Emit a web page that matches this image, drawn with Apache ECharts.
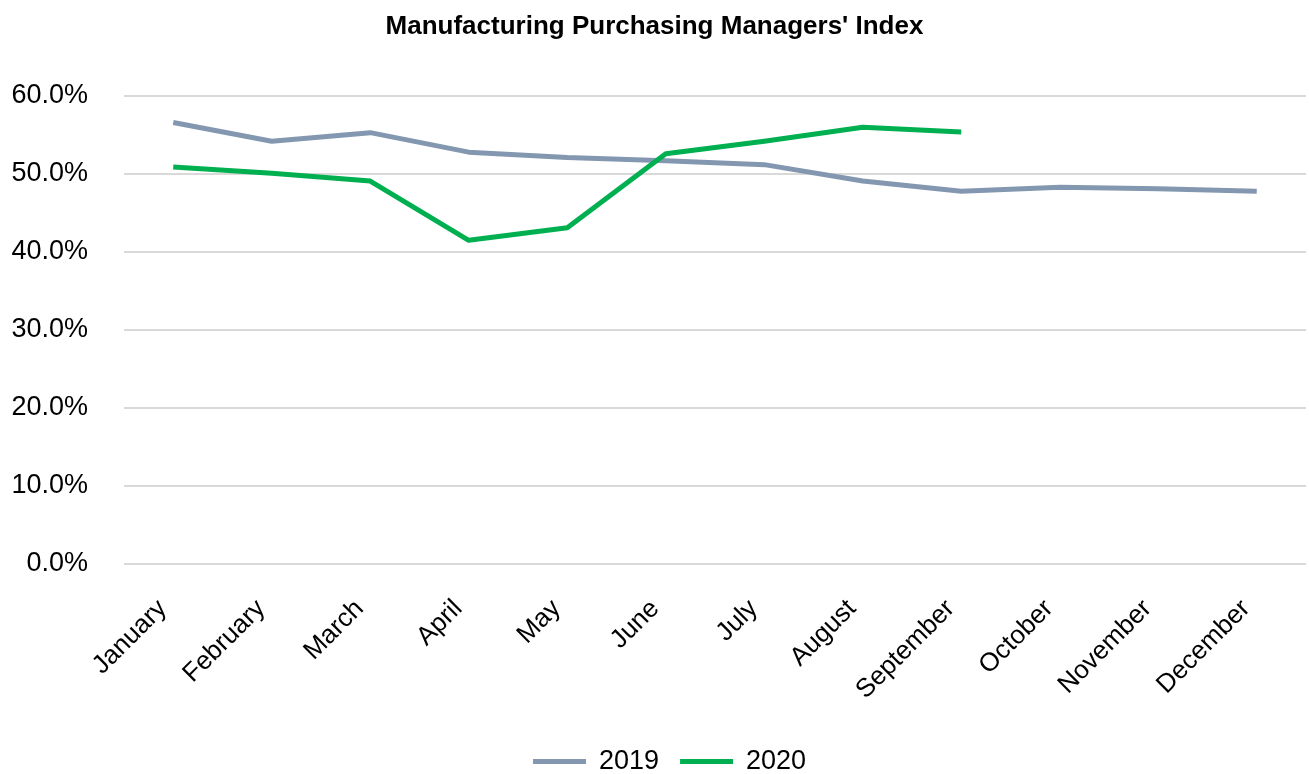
<!DOCTYPE html>
<html>
<head>
<meta charset="utf-8">
<script src="https://cdn.jsdelivr.net/npm/echarts@6/dist/echarts.min.js"></script>
<style>
  html, body { margin: 0; padding: 0; background: #fff; }
  #chart { width: 1309px; height: 774px; }
</style>
</head>
<body>
<div id="chart"></div>
<script>
// Monthly manufacturing PMI readings (percent)
const months = ['January', 'February', 'March', 'April', 'May', 'June',
  'July', 'August', 'September', 'October', 'November', 'December'];
const pmi2019 = [56.6, 54.2, 55.3, 52.8, 52.1, 51.7, 51.2, 49.1, 47.8, 48.3, 48.1, 47.8];
const pmi2020 = [50.9, 50.1, 49.1, 41.5, 43.1, 52.6, 54.2, 56.0, 55.4];
const yTicks = [0, 10, 20, 30, 40, 50, 60];

const FONT = '"Liberation Sans", Arial, sans-serif';

const chart = echarts.init(document.getElementById('chart'), null, { renderer: 'canvas' });

chart.setOption({
  animation: false,
  backgroundColor: '#ffffff',
  title: {
    text: "Manufacturing Purchasing Managers' Index",
    left: 'center',
    top: 9,
    textStyle: { fontFamily: FONT, fontSize: 26, fontWeight: 'bold', color: '#000' }
  },
  legend: {
    top: 743,
    left: 528,
    icon: 'rect',
    itemWidth: 53,
    itemHeight: 5,
    itemGap: 21,
    textStyle: { fontFamily: FONT, fontSize: 27, color: '#000', padding: [0, 0, 0, 8] },
    data: ['2019', '2020']
  },
  grid: { left: 124, right: 3, top: 96, bottom: 210, containLabel: false },
  xAxis: {
    type: 'category',
    data: months,
    boundaryGap: true,
    axisLine: { show: false },
    axisTick: { show: false },
    axisLabel: {
      rotate: 45,
      margin: 30,
      padding: [0, 15, 0, 0],
      fontFamily: FONT,
      fontSize: 26,
      color: '#000',
      interval: 0
    }
  },
  yAxis: {
    type: 'value',
    min: yTicks[0],
    max: yTicks[yTicks.length - 1],
    interval: 10,
    axisLine: { show: false },
    axisTick: { show: false },
    splitLine: { lineStyle: { color: '#D9D9D9', width: 2 } },
    axisLabel: {
      margin: 36,
      fontFamily: FONT,
      fontSize: 27,
      color: '#000',
      formatter: v => v.toFixed(1) + '%'
    }
  },
  series: [
    {
      name: '2019',
      type: 'line',
      data: pmi2019,
      symbol: 'none',
      lineStyle: { color: '#8497B0', width: 5, cap: 'butt', join: 'round' },
      itemStyle: { color: '#8497B0' }
    },
    {
      name: '2020',
      type: 'line',
      data: pmi2020,
      symbol: 'none',
      lineStyle: { color: '#00B050', width: 5, cap: 'butt', join: 'round' },
      itemStyle: { color: '#00B050' }
    }
  ]
});
</script>
</body>
</html>
